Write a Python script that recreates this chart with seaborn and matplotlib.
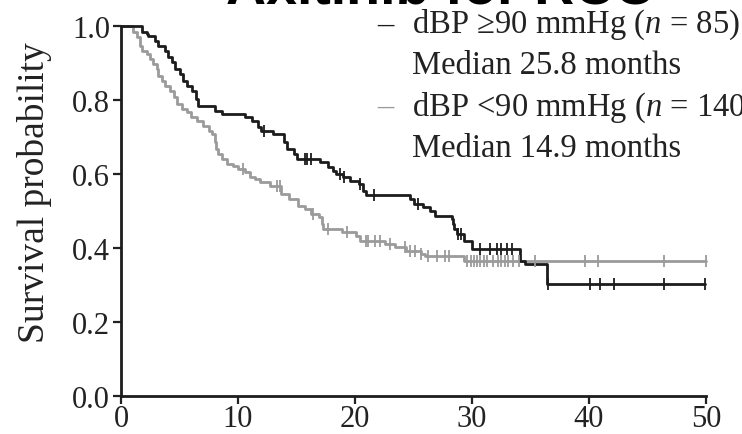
import numpy as np
import pandas as pd
import matplotlib
matplotlib.use("Agg")
import matplotlib.pyplot as plt
import seaborn as sns

# ---- data ----
high_time = [0, 1.8, 2.2, 2.35, 2.9, 3.2, 3.75, 4.05, 4.35, 4.6, 5.05, 5.3, 5.6, 6.05, 6.45, 6.6,
             8.0, 8.6, 10.6, 11.2, 11.7, 12.0, 13.0, 13.9, 14.2, 14.8, 15.0, 17.0, 17.7, 18.1,
             18.4, 19.0, 19.6, 20.3, 20.7, 20.9, 24.7, 25.0, 25.8, 26.4, 26.8, 28.3, 28.4, 28.5,
             28.7, 29.3, 29.97, 34.1, 34.5, 36.4, 49.9]
high_surv = [1.0, 0.985, 0.978, 0.972, 0.96, 0.947, 0.933, 0.916, 0.903, 0.884, 0.87, 0.852, 0.839,
             0.825, 0.803, 0.785, 0.771, 0.762, 0.753, 0.744, 0.727, 0.717, 0.708, 0.686, 0.668,
             0.654, 0.641, 0.632, 0.618, 0.609, 0.6, 0.591, 0.582, 0.573, 0.555, 0.543, 0.532,
             0.519, 0.51, 0.50, 0.487, 0.478, 0.465, 0.451, 0.438, 0.42, 0.397, 0.366, 0.357,
             0.303, 0.303]
high_censor = [12.2, 15.7, 15.9, 16.2, 18.7, 19.1, 20.4, 21.6, 25.4, 28.8, 29.1, 30.7, 31.5, 32.1,
               32.5, 32.96, 33.4, 36.5, 40.1, 40.9, 42.1, 46.4, 49.9]

low_time = [0, 1.0, 1.34, 1.6, 1.77, 2.2, 2.5, 2.76, 3.05, 3.2, 3.48, 3.76, 4.2, 4.5, 4.8, 5.2, 5.6,
            6.0, 6.5, 7.0, 7.5, 7.8, 8.0, 8.1, 8.3, 8.6, 9.06, 9.6, 10.0, 10.6, 11.0, 11.45, 11.9,
            12.7, 13.7, 14.4, 15.1, 15.7, 16.2, 16.9, 17.15, 17.3, 18.9, 20.1, 20.4, 22.6, 23.4,
            24.4, 25.6, 26.0, 29.3, 50.0]
low_surv = [1.0, 0.985, 0.969, 0.947, 0.933, 0.924, 0.911, 0.897, 0.884, 0.866, 0.852, 0.839, 0.825,
            0.807, 0.789, 0.776, 0.767, 0.753, 0.742, 0.731, 0.717, 0.708, 0.686, 0.668, 0.654,
            0.641, 0.627, 0.622, 0.614, 0.605, 0.591, 0.586, 0.578, 0.568, 0.546, 0.532, 0.514,
            0.505, 0.492, 0.483, 0.465, 0.451, 0.442, 0.433, 0.42, 0.411, 0.402, 0.393, 0.384,
            0.378, 0.366, 0.366]
low_censor = [10.4, 13.3, 13.6, 16.4, 17.7, 19.3, 20.9, 21.1, 21.7, 22.1, 23.0, 24.3, 24.7, 25.1,
              25.6, 26.2, 27.0, 27.7, 28.0, 29.6, 29.9, 30.2, 30.4, 30.7, 31.0, 31.3, 31.8, 32.2,
              32.5, 32.8, 33.1, 33.5, 34.0, 35.4, 39.7, 40.8, 46.4, 50.0]

x_ticks = [0, 10, 20, 30, 40, 50]
y_ticks = [0.0, 0.2, 0.4, 0.6, 0.8, 1.0]
y_label = "Survival probability"
title = "Axitinib for RCC"
legend_lines = [
    ("dBP ≥90 mmHg ($n$ = 85)", "Median 25.8 months"),
    ("dBP <90 mmHg ($n$ = 140)", "Median 14.9 months"),
]

BLACK = "#1c1c1c"
GRAY = "#9b9b9b"
TEXT = "#222222"

sns.set_style("ticks")
plt.rcParams["font.family"] = ["Liberation Serif", "DejaVu Serif"]
plt.rcParams["mathtext.fontset"] = "custom"
plt.rcParams["mathtext.rm"] = "Liberation Serif"
plt.rcParams["mathtext.it"] = "Liberation Serif:italic"

fig = plt.figure(figsize=(7.42, 4.35), dpi=100)
ax = fig.add_axes([121 / 742, 1 - 397 / 435, (706 - 121) / 742, (397 - 27) / 435])

df_hi = pd.DataFrame({"t": high_time, "s": high_surv})
df_lo = pd.DataFrame({"t": low_time, "s": low_surv})

sns.lineplot(data=df_lo, x="t", y="s", ax=ax, estimator=None, sort=False,
             drawstyle="steps-post", color=GRAY, lw=2.0, clip_on=False)
sns.lineplot(data=df_hi, x="t", y="s", ax=ax, estimator=None, sort=False,
             drawstyle="steps-post", color=BLACK, lw=2.0, clip_on=False)


def censor_y(times, surv, cens):
    t = np.asarray(times)
    s = np.asarray(surv)
    idx = np.searchsorted(t, np.asarray(cens), side="right") - 1
    return s[idx]


ax.plot(low_censor, censor_y(low_time, low_surv, low_censor), ls="none", marker="|",
        ms=9, mew=1.3, color=GRAY, clip_on=False)
ax.plot(high_censor, censor_y(high_time, high_surv, high_censor), ls="none", marker="|",
        ms=9, mew=1.3, color=BLACK, clip_on=False)

ax.set_xlim(0, 50)
ax.set_ylim(0, 1.0)
ax.set_xticks(x_ticks)
ax.set_xticklabels([str(v) for v in x_ticks])
ax.set_yticks(y_ticks)
ax.set_yticklabels([f"{v:.1f}" for v in y_ticks])
ax.set_xlabel("")
ax.set_ylabel(y_label, fontsize=27, color=TEXT)
ax.yaxis.set_label_coords(-0.118, 0.552)
ax.tick_params(axis="both", labelsize=22, length=6, width=1.6, colors=TEXT)
ax.tick_params(axis="x", pad=0)
ax.tick_params(axis="y", pad=2)
for sp in ["left", "bottom"]:
    ax.spines[sp].set_linewidth(2.0)
    ax.spines[sp].set_color(BLACK)
sns.despine(ax=ax)

# legend as text
fs = 23.5
rows_y = [25, 66, 108, 149]
fig.text(377 / 742, 1 - rows_y[0] / 435, "–", color=BLACK, fontsize=fs, va="center", ha="left")
fig.text(412 / 742, 1 - rows_y[0] / 435, legend_lines[0][0], color=TEXT, fontsize=fs, va="center", ha="left")
fig.text(412 / 742, 1 - rows_y[1] / 435, legend_lines[0][1], color=TEXT, fontsize=fs, va="center", ha="left")
fig.text(377 / 742, 1 - rows_y[2] / 435, "–", color=GRAY, fontsize=fs, va="center", ha="left")
fig.text(412 / 742, 1 - rows_y[2] / 435, legend_lines[1][0], color=TEXT, fontsize=fs, va="center", ha="left")
fig.text(412 / 742, 1 - rows_y[3] / 435, legend_lines[1][1], color=TEXT, fontsize=fs, va="center", ha="left")

fig.text(440 / 742, 1 - 4 / 435, title, ha="center", va="baseline", fontsize=40,
         fontweight="bold", family=["Liberation Sans", "DejaVu Sans"], color="black")

fig.savefig("out.png", dpi=100)
